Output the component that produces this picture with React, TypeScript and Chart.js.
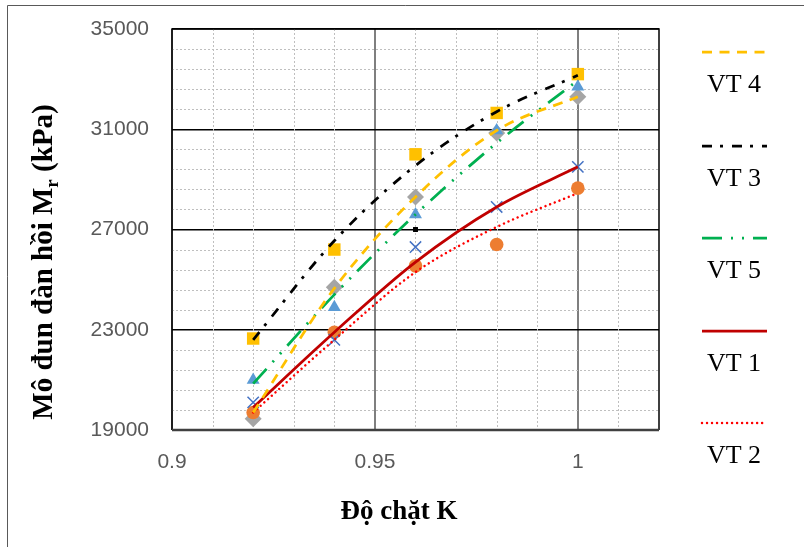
import React, { useEffect, useRef } from "react";
import { Chart, registerables } from "chart.js";
Chart.register(...registerables);

// ---- data ----
const kValues = [0.92, 0.94, 0.96, 0.98, 1.0];
const squareValues = [22650, 26200, 30000, 31650, 33200];
const diamondValues = [19450, 24700, 28300, 30850, 32300];
const triangleValues = [21000, 23900, 27600, 30950, 32700];
const crossValues = [20100, 22600, 26300, 27900, 29500];
const circleValues = [19700, 22900, 25550, 26400, 28650];
const extraK = [0.96];
const extraValues = [27000];

const vt4Values = [19700, 24650, 28300, 30950, 32300];
const vt3Values = [22600, 26550, 29550, 31700, 33150];
const vt5Values = [20850, 24400, 27600, 30450, 32950];
const vt1Values = [19900, 22900, 25700, 27900, 29500];
const vt2Values = [19700, 22600, 25300, 27100, 28450];

const seriesNames = ["VT 4", "VT 3", "VT 5", "VT 1", "VT 2"];
const xTicks = [0.9, 0.95, 1.0];
const yTicks = [19000, 23000, 27000, 31000, 35000];
const xMinor = [0.91, 0.92, 0.93, 0.94, 0.96, 0.97, 0.98, 0.99, 1.01];
const yMinorStep = 800;

const xTitle = "Độ chặt K";
const yTitleMain = "Mô đun đàn hồi M";
const yTitleSub = "r";
const yTitleEnd = " (kPa)";

const trendColors = ["#FFC000", "#000000", "#00B050", "#C00000", "#FF0000"];
const trendDashes = [[10, 7.5], [10, 8, 3, 9], [20, 9, 2, 9, 2, 9], [], [0.01, 5]];
const trendCaps = ["butt", "butt", "butt", "butt", "round"];
const trendWidths = [2.75, 2.75, 2.75, 2.75, 2.5];

const pts = (xs: number[], ys: number[]) => xs.map((x, i) => ({ x, y: ys[i] }));

const overlay = {
  id: "overlay",
  beforeDatasetsDraw(chart: any) {
    const { ctx, chartArea: a, scales } = chart;
    const xs = scales.x, ys = scales.y;
    ctx.save();
    ctx.strokeStyle = "#BFBFBF";
    ctx.lineWidth = 1;
    ctx.setLineDash([2, 2]);
    for (const v of xMinor) {
      const px = Math.round(xs.getPixelForValue(v)) + 0.5;
      ctx.beginPath(); ctx.moveTo(px, a.top); ctx.lineTo(px, a.bottom); ctx.stroke();
    }
    for (let v = 19000 + yMinorStep; v < 35000; v += yMinorStep) {
      if ((v - 19000) % 4000 === 0) continue;
      const py = Math.round(ys.getPixelForValue(v)) + 0.5;
      ctx.beginPath(); ctx.moveTo(a.left, py); ctx.lineTo(a.right, py); ctx.stroke();
    }
    ctx.restore();
  },
  afterDraw(chart: any) {
    const { ctx, chartArea: a } = chart;
    ctx.save();
    // plot border
    ctx.setLineDash([]);
    ctx.strokeStyle = "#000";
    ctx.lineWidth = 1.5;
    ctx.beginPath();
    ctx.moveTo(a.left, a.bottom); ctx.lineTo(a.left, a.top); ctx.lineTo(a.right, a.top); ctx.lineTo(a.right, a.bottom);
    ctx.stroke();
    ctx.strokeStyle = "#404040";
    ctx.lineWidth = 2.5;
    ctx.beginPath(); ctx.moveTo(a.left, a.bottom); ctx.lineTo(a.right, a.bottom); ctx.stroke();
    // outer frame
    ctx.strokeStyle = "#595959";
    ctx.lineWidth = 1;
    ctx.beginPath(); ctx.moveTo(7.5, 547); ctx.lineTo(7.5, 5.5); ctx.lineTo(804, 5.5); ctx.stroke();

    // x title
    ctx.fillStyle = "#000";
    ctx.font = "bold 27px 'Liberation Serif', 'Times New Roman', serif";
    ctx.textAlign = "center";
    ctx.textBaseline = "alphabetic";
    ctx.fillText(xTitle, 399, 519);

    // y title rotated
    ctx.save();
    ctx.translate(52, 262);
    ctx.rotate(-Math.PI / 2);
    const fMain = "bold 29px 'Liberation Serif', 'Times New Roman', serif";
    const fSub = "bold 19px 'Liberation Serif', 'Times New Roman', serif";
    ctx.font = fMain;
    const w1 = ctx.measureText(yTitleMain).width;
    const w3 = ctx.measureText(yTitleEnd).width;
    ctx.font = fSub;
    const w2 = ctx.measureText(yTitleSub).width;
    const total = w1 + w2 + w3;
    let x0 = -total / 2;
    ctx.textAlign = "left";
    ctx.font = fMain;
    ctx.fillText(yTitleMain, x0, 0);
    ctx.font = fSub;
    ctx.fillText(yTitleSub, x0 + w1, 6);
    ctx.font = fMain;
    ctx.fillText(yTitleEnd, x0 + w1 + w2, 0);
    ctx.restore();

    // legend
    const lineY = [52, 146, 238, 331, 423];
    for (let i = 0; i < seriesNames.length; i++) {
      ctx.strokeStyle = trendColors[i];
      ctx.lineWidth = trendWidths[i];
      ctx.lineCap = trendCaps[i] as CanvasLineCap;
      ctx.setLineDash(trendDashes[i]);
      ctx.beginPath(); ctx.moveTo(702, lineY[i]); ctx.lineTo(767, lineY[i]); ctx.stroke();
      ctx.setLineDash([]);
      ctx.lineCap = "butt";
      ctx.fillStyle = "#000";
      ctx.font = "26px 'Liberation Serif', 'Times New Roman', serif";
      ctx.textAlign = "center";
      ctx.fillText(seriesNames[i], 734, lineY[i] + 40);
    }
    ctx.restore();
  },
};

export default function App() {
  const ref = useRef<HTMLCanvasElement>(null);
  useEffect(() => {
    const trend = (i: number, vals: number[]) => ({
      type: "scatter",
      label: seriesNames[i],
      data: pts(kValues, vals),
      showLine: true,
      borderColor: trendColors[i],
      borderWidth: trendWidths[i],
      borderDash: trendDashes[i],
      borderCapStyle: trendCaps[i],
      pointRadius: 0,
      cubicInterpolationMode: "monotone",
      fill: false,
      order: 1,
    });
    const marker = (vals: number[], xs: number[], style: string, color: string, r: number, extra: any = {}) => ({
      type: "scatter",
      data: pts(xs, vals),
      showLine: false,
      pointStyle: style,
      pointRadius: r,
      pointHoverRadius: r,
      backgroundColor: color,
      borderColor: color,
      borderWidth: 0,
      order: 2,
      ...extra,
    });
    const chart = new Chart(ref.current!, {
      type: "scatter",
      data: {
        datasets: [
          trend(0, vt4Values),
          trend(1, vt3Values),
          trend(2, vt5Values),
          trend(3, vt1Values),
          trend(4, vt2Values),
          marker(crossValues, kValues, "crossRot", "#4472C4", 8, { borderWidth: 1.5 }),
          marker(circleValues, kValues, "circle", "#ED7D31", 6.8),
          marker(extraValues, extraK, "rect", "#000000", 3.5),
          marker(triangleValues, kValues, "triangle", "#5B9BD5", 7.5),
          marker(diamondValues, kValues, "rectRot", "#A5A5A5", 8.5),
          marker(squareValues, kValues, "rect", "#FFC000", 8.8),
        ] as any,
      },
      options: {
        animation: false,
        responsive: false,
        devicePixelRatio: 1,
        layout: { padding: { left: 0, top: 29, right: 145, bottom: 0 } },
        plugins: { legend: { display: false }, tooltip: { enabled: false } },
        scales: {
          x: {
            type: "linear",
            min: 0.9,
            max: 1.02,
            afterBuildTicks: (s: any) => { s.ticks = xTicks.map((v) => ({ value: v })); },
            afterFit: (s: any) => { s.height = 117; s.paddingLeft = 0; s.paddingRight = 0; },
            ticks: {
              callback: (v: any) => String(Number(Number(v).toFixed(2))),
              font: { family: "'Liberation Sans', Arial, sans-serif", size: 21 },
              color: "#595959",
              padding: 20,
              maxRotation: 0,
              autoSkip: false,
            },
            grid: { color: "#7F7F7F", lineWidth: 2, drawTicks: false },
            border: { display: false },
          },
          y: {
            type: "linear",
            min: 19000,
            max: 35000,
            afterBuildTicks: (s: any) => { s.ticks = yTicks.map((v) => ({ value: v })); },
            afterFit: (s: any) => { s.width = 172; s.paddingTop = 0; s.paddingBottom = 0; },
            ticks: {
              callback: (v: any) => String(v),
              font: { family: "'Liberation Sans', Arial, sans-serif", size: 21 },
              color: "#595959",
              padding: 23,
              autoSkip: false,
            },
            grid: { color: "#000000", lineWidth: 1.5, drawTicks: false },
            border: { display: false },
          },
        },
      },
      plugins: [overlay],
    } as any);
    return () => chart.destroy();
  }, []);
  return (
    <div style={{ position: "fixed", left: 0, top: 0, width: 804, height: 547, background: "#fff" }}>
      <canvas ref={ref} width={804} height={547} style={{ width: 804, height: 547, display: "block" }} />
    </div>
  );
}
